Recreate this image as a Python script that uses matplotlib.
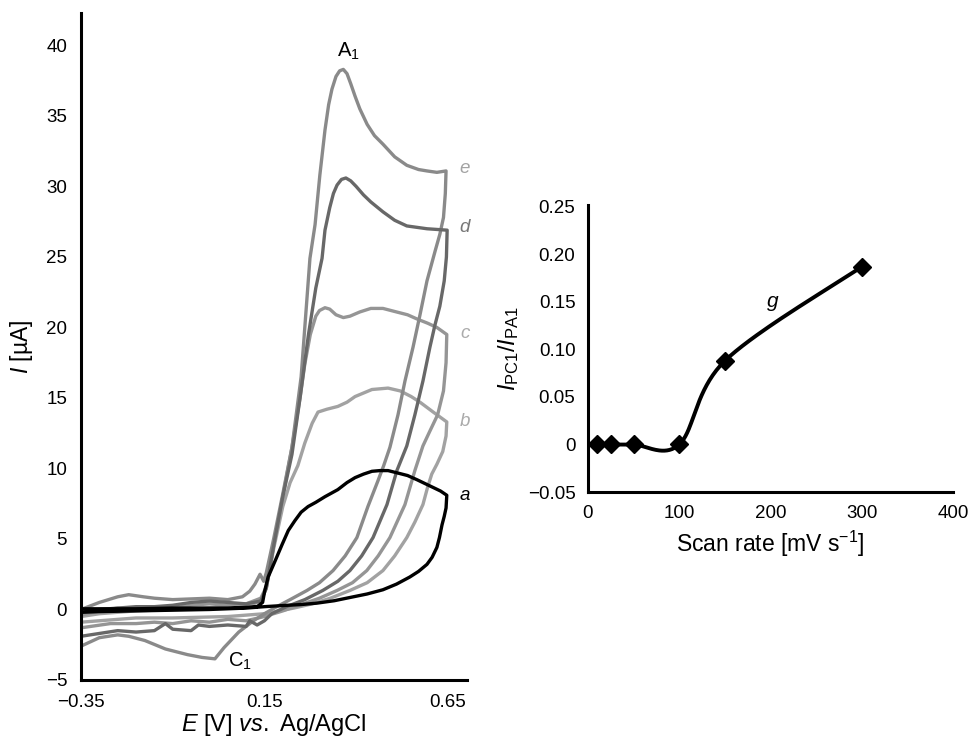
import numpy as np
import matplotlib.pyplot as plt

plt.rcParams['font.family'] = ['Liberation Sans', 'DejaVu Sans']
plt.rcParams['mathtext.fontset'] = 'custom'
plt.rcParams['mathtext.rm'] = 'Liberation Sans'
plt.rcParams['mathtext.it'] = 'Liberation Sans:italic'
plt.rcParams['mathtext.bf'] = 'Liberation Sans:bold'

# ---- cyclic voltammograms (E in V, I in uA), forward then reverse scan ----
e_E = [-0.35, -0.30, -0.25, -0.22, -0.18, -0.15, -0.10, -0.05, 0.00, 0.05, 0.09, 0.11, 0.124, 0.138, 0.148,
       0.155, 0.175, 0.20, 0.225, 0.25, 0.274, 0.288, 0.301, 0.315, 0.325, 0.334, 0.345, 0.355, 0.365,
       0.375, 0.385, 0.397, 0.41, 0.43, 0.45, 0.473, 0.505, 0.538, 0.57, 0.593, 0.62, 0.645,
       0.643, 0.638, 0.628, 0.615, 0.593, 0.574, 0.555, 0.533, 0.514, 0.492, 0.475, 0.459, 0.432, 0.402,
       0.37, 0.337, 0.30, 0.266, 0.22, 0.18, 0.15, 0.12, 0.08, 0.04, 0.015, -0.02, -0.06, -0.12, -0.176,
       -0.22, -0.25, -0.30, -0.35]
e_I = [0.0, 0.5, 0.9, 1.05, 0.9, 0.8, 0.7, 0.75, 0.8, 0.7, 0.9, 1.3, 1.8, 2.5, 2.0,
       2.6, 5.0, 8.2, 11.5, 16.5, 24.9, 27.3, 30.8, 34.0, 35.8, 36.9, 37.8, 38.2, 38.3,
       38.0, 37.3, 36.4, 35.5, 34.4, 33.6, 33.0, 32.1, 31.5, 31.2, 31.1, 31.0, 31.1,
       29.5, 27.8, 26.6, 25.4, 23.3, 20.9, 18.6, 16.2, 13.8, 11.5, 10.2, 9.1, 7.3, 5.1,
       3.8, 2.76, 1.9, 1.35, 0.7, 0.15, -0.3, -0.8, -1.6, -2.7, -3.5, -3.4, -3.2, -2.8, -2.2,
       -1.9, -1.8, -2.0, -2.6]

d_E = [-0.35, -0.30, -0.25, -0.20, -0.15, -0.10, -0.05, 0.00, 0.05, 0.10, 0.14,
       0.155, 0.175, 0.20, 0.225, 0.247, 0.27, 0.29, 0.307, 0.315, 0.328, 0.338, 0.348, 0.36, 0.372,
       0.385, 0.40, 0.42, 0.44, 0.473, 0.505, 0.538, 0.593, 0.648,
       0.646, 0.640, 0.628, 0.615, 0.601, 0.582, 0.56, 0.538, 0.511, 0.484, 0.446, 0.415, 0.383, 0.35,
       0.309, 0.26, 0.21, 0.17, 0.15, 0.13, 0.11, 0.10, 0.05, 0.00, -0.03, -0.05, -0.10, -0.12, -0.15,
       -0.20, -0.25, -0.30, -0.35]
d_I = [-0.2, 0.0, 0.1, 0.2, 0.2, 0.3, 0.5, 0.6, 0.5, 0.4, 0.6,
       1.5, 4.5, 8.0, 11.0, 15.0, 19.5, 22.8, 24.9, 26.9, 28.5, 29.5, 30.1, 30.5, 30.6,
       30.4, 30.0, 29.4, 28.9, 28.2, 27.6, 27.2, 27.0, 26.9,
       25.0, 23.3, 21.5, 20.2, 18.6, 16.2, 13.8, 11.6, 9.85, 7.44, 5.1, 3.8, 2.76, 2.0,
       1.35, 0.7, 0.2, -0.3, -0.8, -1.1, -0.8, -1.2, -1.1, -1.2, -1.1, -1.5, -1.4, -1.0, -1.5,
       -1.6, -1.5, -1.7, -1.9]

c_E = [-0.35, -0.30, -0.25, -0.20, -0.15, -0.10, -0.05, 0.00, 0.05, 0.10, 0.14,
       0.155, 0.175, 0.20, 0.225, 0.247, 0.26, 0.275, 0.29, 0.30, 0.315, 0.328, 0.345, 0.365, 0.383,
       0.41, 0.44, 0.473, 0.51, 0.54, 0.566, 0.595, 0.62, 0.647,
       0.645, 0.638, 0.622, 0.60, 0.582, 0.56, 0.533, 0.492, 0.46, 0.429, 0.39, 0.348, 0.30, 0.25,
       0.20, 0.15, 0.10, 0.05, 0.00, -0.05, -0.10, -0.15, -0.20, -0.27, -0.35]
c_I = [-0.4, -0.1, 0.1, 0.0, 0.2, 0.1, 0.3, 0.4, 0.3, 0.4, 0.8,
       1.6, 4.5, 8.0, 11.5, 15.0, 17.4, 19.5, 20.8, 21.2, 21.4, 21.3, 20.9, 20.7, 20.8,
       21.1, 21.35, 21.35, 21.1, 20.9, 20.6, 20.3, 20.0, 19.5,
       17.5, 15.5, 13.8, 12.6, 11.6, 9.85, 7.44, 5.1, 3.8, 2.76, 1.9, 1.35, 0.8, 0.35,
       -0.1, -0.5, -0.8, -0.7, -0.9, -0.8, -1.0, -0.9, -1.0, -1.0, -1.3]

b_E = [-0.35, -0.30, -0.20, -0.10, 0.00, 0.10, 0.14,
       0.155, 0.175, 0.20, 0.22, 0.241, 0.26, 0.28, 0.296, 0.32, 0.35, 0.375, 0.397, 0.443, 0.487,
       0.52, 0.55, 0.574, 0.61, 0.647,
       0.645, 0.636, 0.62, 0.606, 0.594, 0.582, 0.56, 0.538, 0.505, 0.473, 0.43, 0.383, 0.33, 0.28,
       0.23, 0.15, 0.05, -0.10, -0.20, -0.30, -0.35]
b_I = [-0.5, -0.3, -0.1, 0.0, 0.1, 0.2, 0.6,
       1.5, 4.3, 7.3, 9.0, 10.2, 11.8, 13.2, 14.0, 14.2, 14.4, 14.7, 15.1, 15.6, 15.7,
       15.5, 15.1, 14.7, 14.0, 13.3,
       12.3, 11.2, 10.3, 9.6, 8.6, 7.44, 6.2, 5.1, 3.8, 2.76, 1.9, 1.35, 0.8, 0.4,
       0.1, -0.3, -0.5, -0.6, -0.6, -0.8, -0.9]

a_E = [-0.35, -0.30, -0.20, -0.10, 0.00, 0.05, 0.10, 0.13, 0.145, 0.151, 0.16, 0.18, 0.198, 0.215,
       0.233, 0.25, 0.269, 0.29, 0.315, 0.35, 0.375, 0.397, 0.42, 0.443, 0.465, 0.487, 0.51, 0.54,
       0.566, 0.59, 0.61, 0.63, 0.647,
       0.645, 0.640, 0.634, 0.627, 0.62, 0.607, 0.593, 0.57, 0.546, 0.51, 0.473, 0.43, 0.383, 0.34,
       0.293, 0.25, 0.20, 0.15, 0.10, 0.00, -0.10, -0.20, -0.30, -0.35]
a_I = [0.05, 0.05, 0.05, 0.1, 0.1, 0.1, 0.15, 0.2, 0.5, 1.35, 2.3, 3.5, 4.6, 5.6,
       6.3, 6.9, 7.3, 7.6, 8.0, 8.5, 9.0, 9.35, 9.6, 9.8, 9.85, 9.85, 9.7, 9.5,
       9.2, 8.9, 8.65, 8.4, 8.1,
       7.2, 6.6, 6.0, 5.1, 4.4, 3.7, 3.2, 2.7, 2.3, 1.8, 1.4, 1.1, 0.85, 0.62,
       0.45, 0.35, 0.28, 0.2, 0.1, 0.0, -0.05, -0.1, -0.15, -0.2]

cv_colors = {'a': 'black', 'b': '#a2a2a2', 'c': '#959595', 'd': '#686868', 'e': '#8a8a8a'}
label_colors = {'a': 'black', 'b': '#ababab', 'c': '#ababab', 'd': '#777777', 'e': '#a3a3a3'}
label_I = {'a': 8.1, 'b': 13.3, 'c': 19.6, 'd': 27.1, 'e': 31.3}

# ---- ratio vs scan rate ----
scan_rate = [10, 25, 50, 100, 150, 300]
ratio = [0.0, 0.0, 0.0, 0.0, 0.088, 0.187]


def excel_smooth(xs, ys, xr, yr, n=40):
    # Catmull-Rom / Bezier smoothing in axes-normalised space
    P = np.column_stack([np.asarray(xs) / xr, np.asarray(ys) / yr])
    P = np.vstack([P[0], P, P[-1]])
    out = []
    t = np.linspace(0, 1, n)[:, None]
    for i in range(1, len(P) - 2):
        b0 = P[i]
        b1 = P[i] + (P[i + 1] - P[i - 1]) / 6
        b2 = P[i + 1] - (P[i + 2] - P[i]) / 6
        b3 = P[i + 1]
        seg = ((1 - t) ** 3) * b0 + 3 * ((1 - t) ** 2) * t * b1 + 3 * (1 - t) * t ** 2 * b2 + t ** 3 * b3
        out.append(seg)
    out = np.vstack(out)
    return out[:, 0] * xr, out[:, 1] * yr


fig = plt.figure(figsize=(9.69, 7.43), dpi=100)

# main CV panel
ax = fig.add_axes([0.0836, 0.0848, 0.3983, 0.8977])
for key, E, I in [('b', b_E, b_I), ('c', c_E, c_I), ('e', e_E, e_I), ('d', d_E, d_I), ('a', a_E, a_I)]:
    ax.plot(E, I, color=cv_colors[key], lw=2.4, solid_joinstyle='round', solid_capstyle='round')
    ax.text(0.696, label_I[key], key, style='italic', fontsize=13.5, color=label_colors[key],
            ha='center', va='center')

ax.text(0.380, 39.6, 'A$_1$', fontsize=14.5, ha='center', va='center')
ax.text(0.082, -3.7, 'C$_1$', fontsize=14.5, ha='center', va='center')

ax.set_xlim(-0.35, 0.702)
ax.set_ylim(-5, 42.3)
ax.set_xticks([-0.35, 0.15, 0.65])
ax.set_xticklabels(['\u22120.35', '0.15', '0.65'])
ax.set_yticks(np.arange(-5, 41, 5))
ax.tick_params(length=0, labelsize=13.5)
ax.tick_params(axis='x', pad=10)
ax.tick_params(axis='y', pad=10)
for s in ['top', 'right']:
    ax.spines[s].set_visible(False)
for s in ['left', 'bottom']:
    ax.spines[s].set_linewidth(2.2)
ax.set_xlabel(r'$E\ \mathrm{[V]}\ vs.\ \mathrm{Ag/AgCl}$', fontsize=17, labelpad=1)
ax.set_ylabel('$I$ [\u00b5A]', fontsize=16.5, labelpad=8)

# inset: peak current ratio
ax2 = fig.add_axes([0.6068, 0.3378, 0.3767, 0.3863])
sx, sy = excel_smooth(scan_rate, ratio, 400, 0.30)
ax2.plot(sx, sy, color='black', lw=2.8)
ax2.plot(scan_rate, ratio, 'D', color='black', ms=9)
ax2.text(203, 0.15, 'g', style='italic', fontsize=15, ha='center', va='center')
ax2.set_xlim(0, 400)
ax2.set_ylim(-0.05, 0.252)
ax2.set_xticks([0, 100, 200, 300, 400])
ax2.set_yticks([-0.05, 0, 0.05, 0.10, 0.15, 0.20, 0.25])
ax2.set_yticklabels(['\u22120.05', '0', '0.05', '0.10', '0.15', '0.20', '0.25'])
ax2.tick_params(length=0, labelsize=13.5)
ax2.tick_params(axis='x', pad=9)
ax2.tick_params(axis='y', pad=9)
for s in ['top', 'right']:
    ax2.spines[s].set_visible(False)
for s in ['left', 'bottom']:
    ax2.spines[s].set_linewidth(2.2)
ax2.set_xlabel('Scan rate [mV s$^{-1}$]', fontsize=16.5, labelpad=5)
ax2.set_ylabel('$I_{\\mathrm{PC1}}/I_{\\mathrm{PA1}}$', fontsize=17, labelpad=5)

fig.savefig('out.png', dpi=100)
